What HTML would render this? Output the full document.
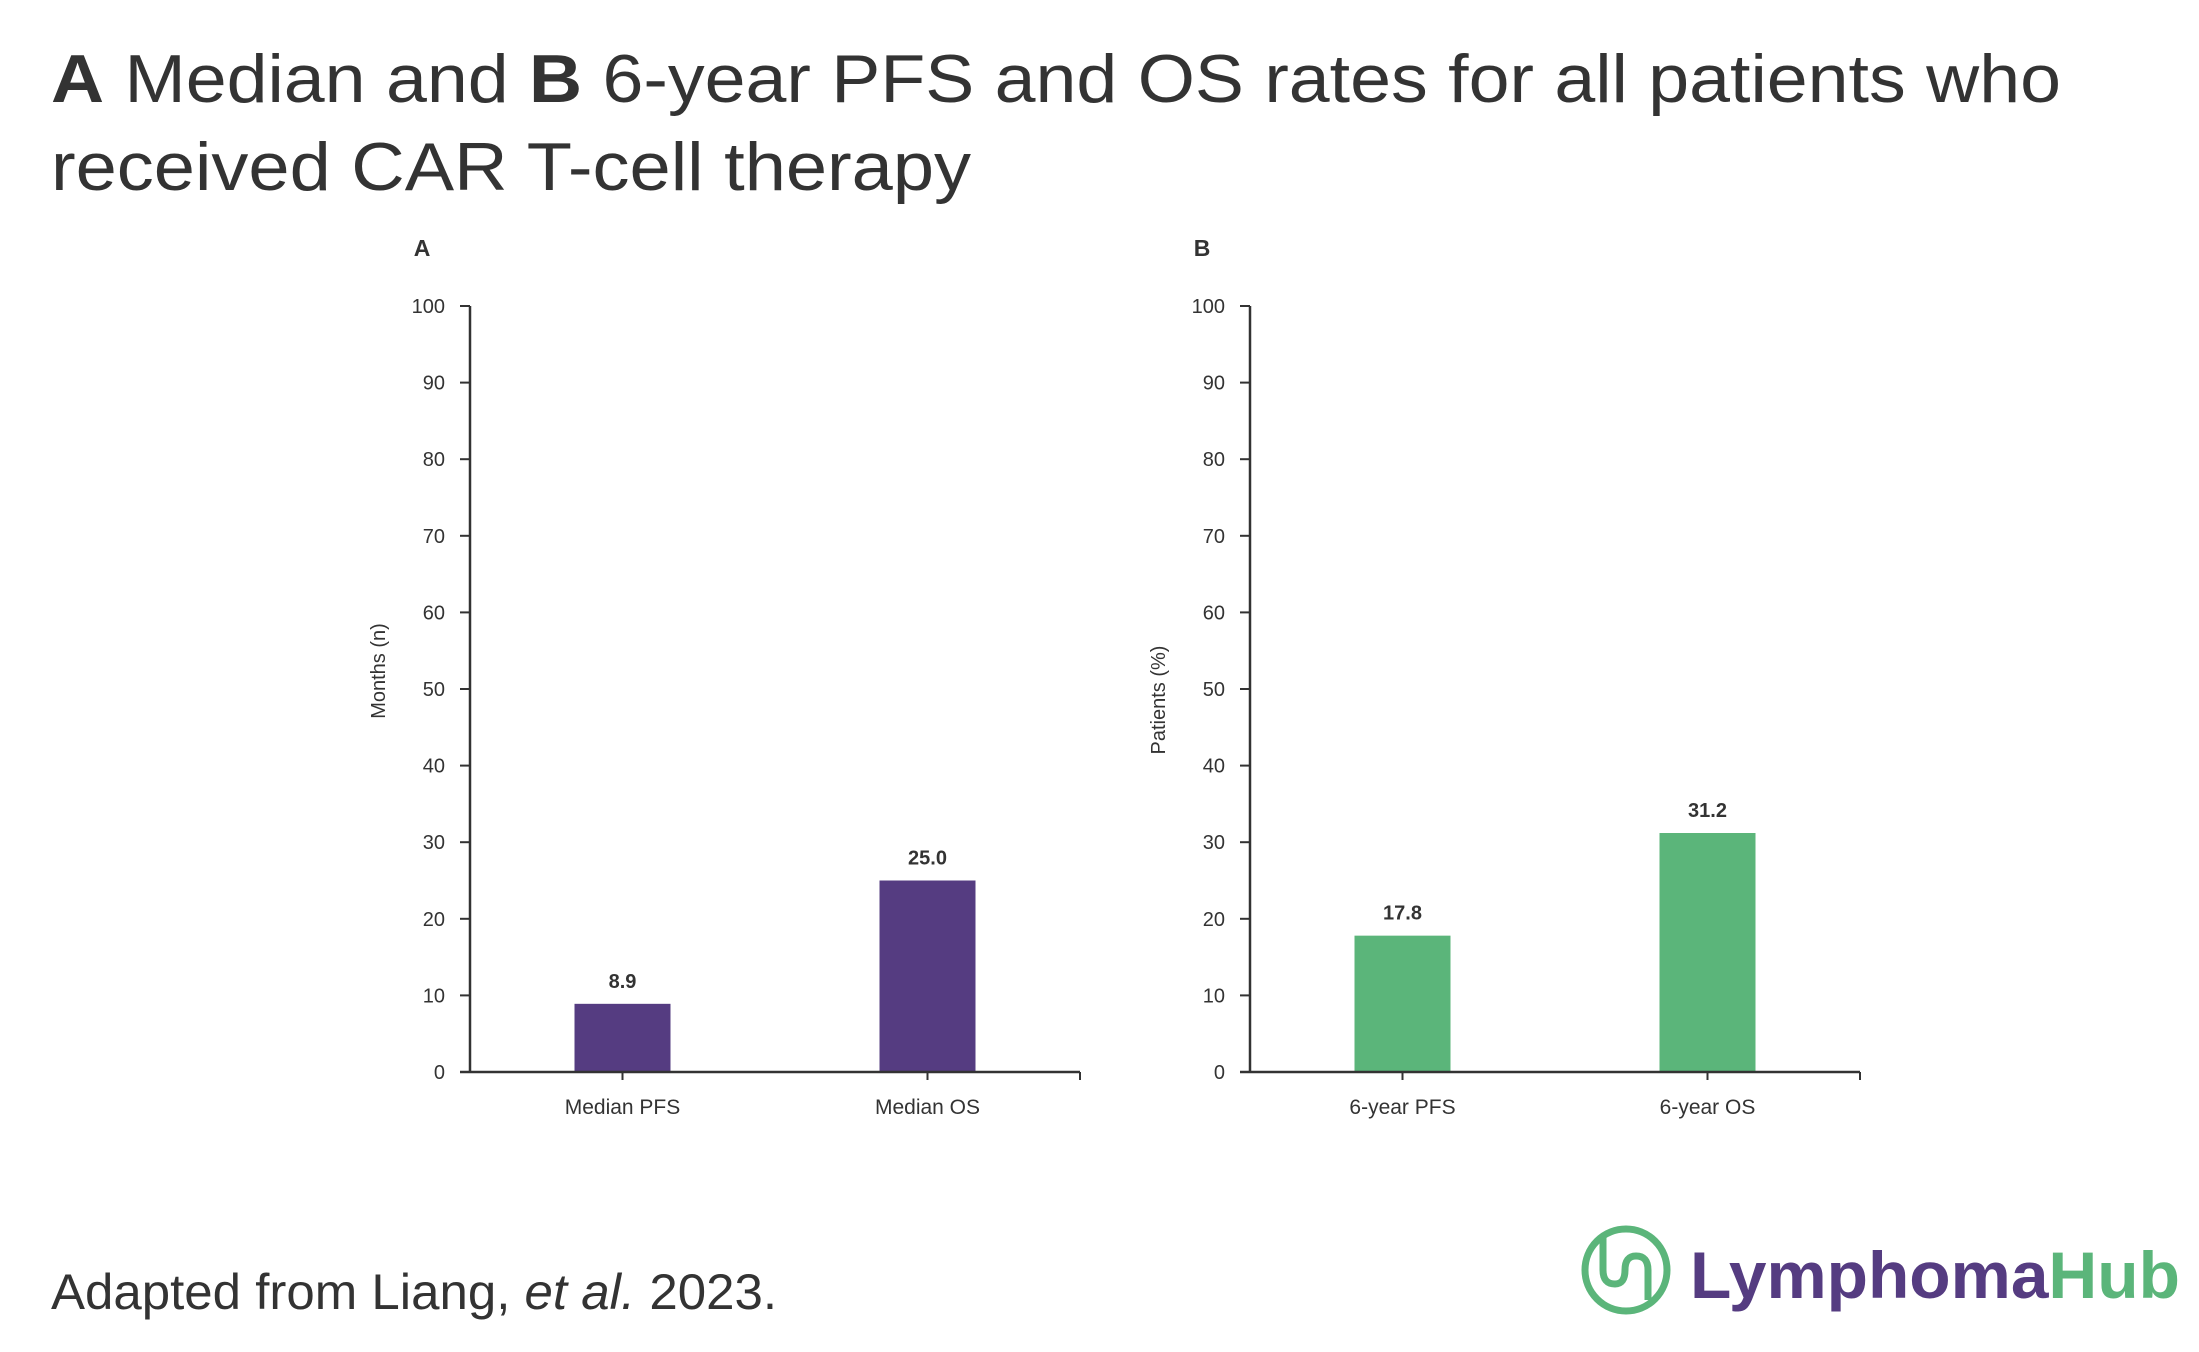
<!DOCTYPE html>
<html><head><meta charset="utf-8"><style>
html,body{margin:0;padding:0;background:#fff;}
svg{display:block;font-family:"Liberation Sans",sans-serif;}
</style></head><body>
<svg id="root" width="2199" height="1352" viewBox="0 0 2199 1352" xmlns="http://www.w3.org/2000/svg">
<text x="51" y="102" font-size="68" fill="#333" textLength="2010" lengthAdjust="spacingAndGlyphs"><tspan font-weight="bold">A</tspan> Median and <tspan font-weight="bold">B</tspan> 6-year PFS and OS rates for all patients who</text>
<text x="51" y="190" font-size="68" fill="#333" textLength="920" lengthAdjust="spacingAndGlyphs">received CAR T-cell therapy</text>
<text x="51" y="1309" font-size="50" fill="#333" textLength="726" lengthAdjust="spacingAndGlyphs">Adapted from Liang, <tspan font-style="italic">et al.</tspan> 2023.</text>
<g>
<circle cx="1626" cy="1270" r="41" fill="none" stroke="#5bb57a" stroke-width="7"/>
<path d="M1603 1236 V1270 q0 14 12 14 q10 0 10-14 q0-14 11-14 q12 0 12 14 V1300" fill="none" stroke="#5bb57a" stroke-width="7"/>
<text x="1690" y="1298" font-size="66" font-weight="bold" textLength="490" lengthAdjust="spacingAndGlyphs"><tspan fill="#553c81">Lymphoma</tspan><tspan fill="#5bb57a">Hub</tspan></text>
</g>
<g id="charts"></g>
</svg>
<script>
const panelLetters = ["A", "B"];
const yTitles = ["Months (n)", "Patients (%)"];
const categoriesA = ["Median PFS", "Median OS"];
const valuesA = [8.9, 25.0];
const categoriesB = ["6-year PFS", "6-year OS"];
const valuesB = [17.8, 31.2];
const yTicks = [0, 10, 20, 30, 40, 50, 60, 70, 80, 90, 100];
const yMax = 100;

const NS = "http://www.w3.org/2000/svg";
const root = document.getElementById("charts");
function mk(tag, attrs, parent, txt) {
  const e = document.createElementNS(NS, tag);
  for (const k in attrs) e.setAttribute(k, attrs[k]);
  if (txt !== undefined) e.textContent = txt;
  parent.appendChild(e);
  return e;
}
function drawPanel(idx, axisX, cats, vals, color, yTitleY) {
  const top = 306, bottom = 1072, right = axisX + 610;
  const y = v => bottom - (v / yMax) * (bottom - top);
  const band = (right - axisX) / cats.length;
  const xc = i => axisX + band * (i + 0.5);
  const g = mk("g", {}, root);
  
  
  const lt = mk("text", {x: axisX - 48, y: 256, "font-size": 23, "font-weight": "bold", fill: "#333", "text-anchor": "middle"}, g, panelLetters[idx]);
  
  
  yTicks.forEach(t => {
    const tk = mk("line", {x1: axisX - 10, x2: axisX, y1: y(t), y2: y(t), stroke: "#333", "stroke-width": 2}, g);
    
    
    const tl = mk("text", {x: axisX - 25, y: y(t) + 7, "font-size": 20, fill: "#333", "text-anchor": "end"}, g, String(t));
    
    
  });
  const ya = mk("line", {x1: axisX, x2: axisX, y1: top, y2: bottom, stroke: "#333", "stroke-width": 2.5}, g);
  
  
  const yt = mk("text", {x: 0, y: 0, "font-size": 20, fill: "#333", "text-anchor": "middle", transform: "translate(" + (axisX - 85) + "," + yTitleY + ") rotate(-90)"}, g, yTitles[idx]);
  
  
  cats.forEach((c, i) => {
    const bw = 96;
    const b = mk("rect", {x: xc(i) - bw / 2, y: y(vals[i]), width: bw, height: bottom - y(vals[i]), fill: color}, g);
    
    
    const vl = mk("text", {x: xc(i), y: y(vals[i]) - 16, "font-size": 20, "font-weight": "bold", fill: "#333", "text-anchor": "middle"}, g, vals[i].toFixed(1));
    
    
    const xt = mk("line", {x1: xc(i), x2: xc(i), y1: bottom, y2: bottom + 8, stroke: "#333", "stroke-width": 2}, g);
    
    
    const cl = mk("text", {x: xc(i), y: bottom + 42, "font-size": 21, fill: "#333", "text-anchor": "middle"}, g, c);
    
    
  });
  const xe = mk("line", {x1: right, x2: right, y1: bottom, y2: bottom + 8, stroke: "#333", "stroke-width": 2}, g);
  
  
  const xa = mk("line", {x1: axisX - 10, x2: right, y1: bottom, y2: bottom, stroke: "#333", "stroke-width": 2.5}, g);
  
  
}
drawPanel(0, 470, categoriesA, valuesA, "#553c81", 671);
drawPanel(1, 1250, categoriesB, valuesB, "#5bb57a", 700);
</script>
</body></html>
